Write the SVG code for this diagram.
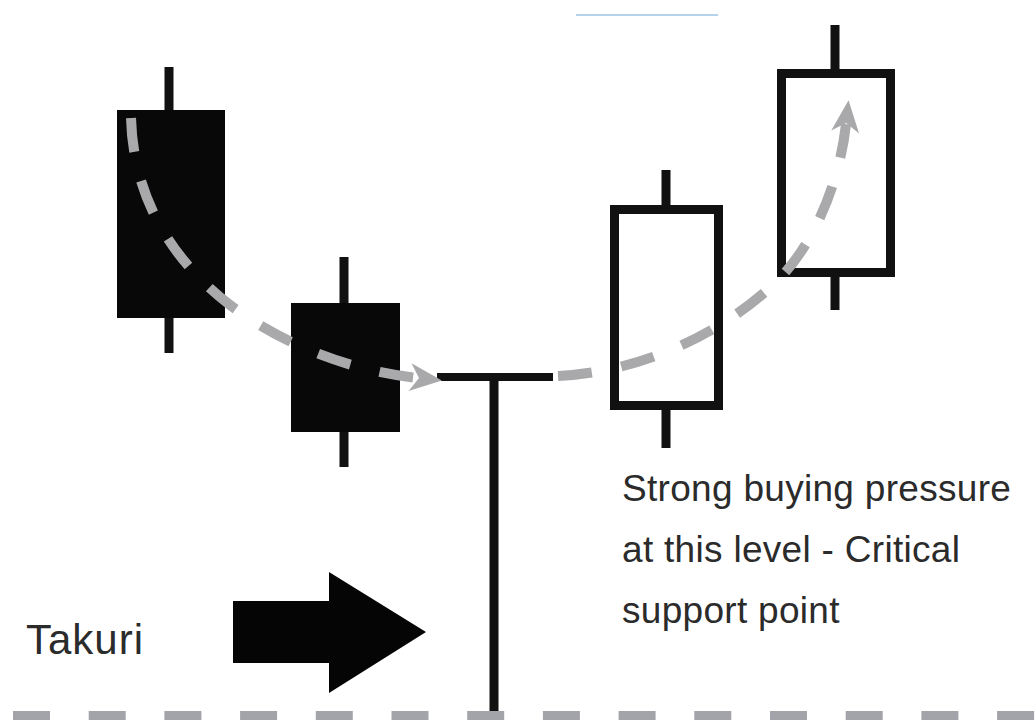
<svg xmlns="http://www.w3.org/2000/svg" width="1036" height="720" viewBox="0 0 1036 720">
  <style>
    .wick { stroke: #111; stroke-width: 9; }
    .bear { fill: #080808; }
    .bull { fill: #ffffff; stroke: #111; stroke-width: 9; }
    .flow { fill: none; stroke: #a9a9ab; stroke-width: 10; stroke-dasharray: 34 30; }
    .label { font-family: "Liberation Sans", Arial, sans-serif; fill: #2b2b2b; }
  </style>
  <defs>
    <marker id="ah" markerUnits="userSpaceOnUse" orient="auto" markerWidth="40" markerHeight="32" refX="8" refY="0" viewBox="-2 -16 40 32">
      <path d="M0 -14 L32 0 L0 14 L9 0 Z" fill="#a9a9ab"/>
    </marker>
  </defs>
  <rect width="1036" height="720" fill="#ffffff"/>
  <line x1="576" y1="15" x2="718" y2="15" stroke="#9cc6e6" stroke-width="1.5"/>

  <g id="candle1">
    <line class="wick" x1="169" y1="67" x2="169" y2="353"/>
    <rect class="bear" x="117" y="110" width="108" height="208"/>
  </g>
  <g id="candle2">
    <line class="wick" x1="344" y1="257" x2="344" y2="467"/>
    <rect class="bear" x="291" y="303" width="109" height="129"/>
  </g>
  <g id="takuri">
    <line class="wick" x1="494" y1="377" x2="494" y2="714"/>
    <line x1="437" y1="377" x2="553" y2="377" stroke="#111" stroke-width="8"/>
  </g>
  <g id="candle3">
    <line class="wick" x1="666" y1="170" x2="666" y2="448"/>
    <rect class="bull" x="614.5" y="209.5" width="104" height="196"/>
  </g>
  <g id="candle4">
    <line class="wick" x1="835" y1="25" x2="835" y2="310"/>
    <rect class="bull" x="781.5" y="73.5" width="109" height="199"/>
  </g>

  <g id="connectors">
    <path class="flow" d="M131 118 C133 190 165 255 230 305 C290 350 360 372 418 378" marker-end="url(#ah)"/>
    <path class="flow" d="M558 376 C640 372 720 335 775 283 C815 245 840 180 846 124" marker-end="url(#ah)"/>
  </g>

  <g id="big-arrow">
    <polygon points="233,601 329,601 329,572 426,632 329,693 329,663 233,663" fill="#050505"/>
  </g>

  <g id="baseline">
    <line x1="13" y1="716" x2="1036" y2="716" stroke="#a3a4aa" stroke-width="10" stroke-dasharray="37 38.7"/>
  </g>

  <g id="texts">
    <text class="label" x="26" y="654" font-size="42" letter-spacing="1">Takuri</text>
    <text class="label" x="622" y="501" font-size="37" letter-spacing="0.3">Strong buying pressure</text>
    <text class="label" x="622" y="562" font-size="37" letter-spacing="0.3">at this level - Critical</text>
    <text class="label" x="622" y="623" font-size="37" letter-spacing="0.3">support point</text>
  </g>
</svg>
